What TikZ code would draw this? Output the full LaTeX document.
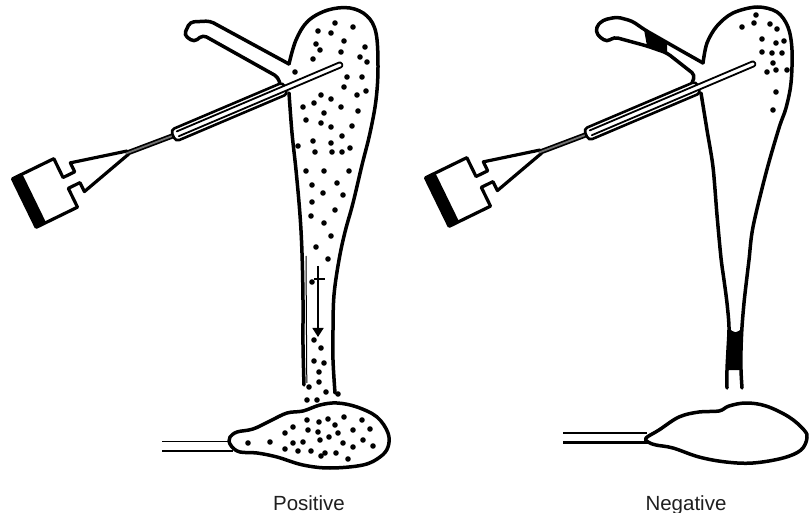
\documentclass[tikz,border=0pt]{standalone}
\usepackage{fontspec}
\setmainfont{Liberation Sans}
\usetikzlibrary{arrows.meta}

\tikzset{
  wall/.style={line width=3.5pt, line join=round, line cap=round},
  fine/.style={line width=1.8pt, line join=round, line cap=round},
  caption/.style={font=\fontsize{20.5}{24}\selectfont, text=black!88, inner sep=0pt, anchor=base},
}

% syringe, wire and catheter, drawn in the coordinates of the left panel
\newcommand{\drawinjector}{%
  \begin{scope}[shift={(45,193)}, rotate=26]
    \fill (-23,-27) rectangle (-12,27);
    \draw[wall, line width=3.2pt] (-23,-27) -- (23,-27) -- (23,-6) -- (36,-6) -- (36,-16)
      -- (92,-1.8) -- (92,1.8) -- (36,16) -- (36,6) -- (23,6) -- (23,27) -- (-23,27) -- cycle;
    \coordinate (nozzle) at (90,0);
  \end{scope}
  \coordinate (hub) at (175,135);
  \draw[line width=1.7pt, double=black!55, double distance=1.8pt] (nozzle) -- (hub);
  \begin{scope}[shift={(175,135)}, rotate=23]
    \draw[line width=2.6pt, fill=white, rounded corners=4pt] (-2,-6.3) rectangle (120,6.3);
    \draw[fine, fill=white, rounded corners=2.4pt] (3,-2.6) -- (181.5,-2.6) -- (181.5,2.6) -- (3,2.6);
  \end{scope}
}

\begin{document}
\begin{tikzpicture}[x=1pt, y=-1pt]
\fill[white] (0,0) rectangle (812,513);
\useasboundingbox (0,0) rectangle (812,513);

% ---------------- left panel: open tube ----------------
\foreach \p in {(335,23),(353,27),(318,31),(331,33),(344,41),(316,44),(320,50),(341,52),
  (365,47),(360,57),(367,62),(313,59),(295,72),(347,77),(362,77),(344,87),(357,95),(366,91),
  (321,95),(331,99),(303,107),(314,103),(341,107),(324,113),(358,111),(306,120),(321,123),
  (331,127),(352,126),(342,136),(298,146),(313,141),(331,143),(315,152),(332,152),(342,152),
  (350,148),(306,171),(324,171),(349,171),
  (312,185),(337,183),(323,193),(343,195),(312,202),(335,210),(311,216),(324,223),(331,236),
  (316,247),(328,259),(312,282),(314,340),(321,348),(314,361),(324,363),(319,372),(319,382),
  (309,387),(326,392),(338,394),(307,400),(317,400),
  (344,417),(362,420),(307,420),(319,422),(328,419),(293,427),(335,425),(308,430),(318,432),
  (353,430),(370,429),(285,433),(338,433),(329,437),(320,440),(363,440),(270,442),(248,443),
  (293,443),(303,442),(343,443),(353,447),(373,446),(285,449),(298,451),(311,451),(325,453),
  (336,453),(321,456),(348,459)}
  \fill \p circle (2.8pt);

% cornual branch with its hooked end
\draw[wall, rounded corners=4pt] (280,84) -- (278,77) -- (203,35) -- (194,42) -- (184,35)
  -- (190,22) -- (210,21) -- (289,64);
% fundus and right wall of the tube
\draw[wall] plot[smooth, tension=0.6] coordinates {(289,64) (296,40) (308,21) (328,10) (350,8)
  (367,16) (376,33) (378,67) (376,100) (370,133) (362,165) (353,203) (345,232) (339,260)
  (334,295) (333,330) (333,360) (335,393)};
% left wall of the tube
\draw[wall] plot[smooth, tension=0.6] coordinates {(289,93) (292,133) (296,170) (300,215)
  (302,253) (303,300) (303,345) (304,385)};
\draw[line width=1pt] (306,256) -- (306.8,383);

% flow arrow
\coordinate (flowtop) at (318,266);
\coordinate (flowtip) at (318,337);
\draw[line width=1.7pt, -{Triangle[length=9pt, width=11pt]}] (flowtop) -- (flowtip);
\draw[line width=1.7pt] (314,279) -- (325,279);

% ovary with its ligament
\draw[line width=1.8pt] (162,441.5) -- (231,441.5);
\draw[line width=2.9pt] (162,451) -- (233,451);
\draw[wall] plot[smooth cycle, tension=0.6] coordinates {(230,437) (237,432) (253,429)
  (270,421) (287,413) (303,411) (320,405) (337,403) (357,407) (377,417) (388,433) (388,447)
  (380,457) (363,465) (330,468) (303,465) (277,457) (257,453) (240,452) (232,447) (229,441)};

\drawinjector

\node[caption] (poslabel) at (309,510) {Positive};

% ---------------- right panel: blocked tube ----------------
\foreach \p in {(756,15),(742,27),(754,23),(770,24),(777,29),(762,39),(776,43),(784,41),
  (762,52),(772,53),(782,53),(773,63),(767,72),(776,70),(787,70),(776,92),(773,110)}
  \fill \p circle (2.8pt);

% occluded segment of the cornual branch
\fill (644,29.5) -- (667,42.6) -- (667,53) -- (647,46) -- cycle;
\draw[wall, rounded corners=4pt] (692,83) -- (695,75) -- (667,53) -- (647,46) -- (614,37)
  -- (607,42) -- (597,35) -- (596,27) -- (603,20) -- (617,17) -- (632,21) -- (645,30)
  -- (680,50) -- (703,63);
% fundus and right wall
\draw[wall] plot[smooth, tension=0.55] coordinates {(703,63) (707,43) (717,26) (733,13)
  (757,7) (777,12) (788,27) (792,50) (791,83) (786,108) (779,128) (766,173) (753,227)
  (749,260) (746,285) (744,303) (742,327) (741,350) (741,370) (742,388)};
% left wall
\draw[wall] plot[smooth, tension=0.5] coordinates {(701,93) (707,130) (713,167) (717,215)
  (721,258) (724,280) (727,303) (729,327) (728,350) (727,370) (727,388)};
% plug closing the tube
\fill (729,327) .. controls (733,334) and (738,334) .. (742,327) -- (741,370) -- (728,370) -- cycle;

% ovary with its ligament
\draw[line width=1.8pt] (563,433.3) -- (647,433.3);
\draw[line width=2.9pt] (563,442.7) -- (648,442.7);
\draw[wall] plot[smooth cycle, tension=0.6] coordinates {(646,438) (659,430) (679,417)
  (699,412) (719,411) (729,406) (746,403) (766,406) (789,417) (804,430) (807,438)
  (801,450) (783,458) (753,463) (726,462) (699,457) (673,448) (656,445) (648,442)};

\begin{scope}[shift={(413,-1)}]
  \drawinjector
\end{scope}

\node[caption] (neglabel) at (686,510) {Negative};
\end{tikzpicture}
\end{document}
